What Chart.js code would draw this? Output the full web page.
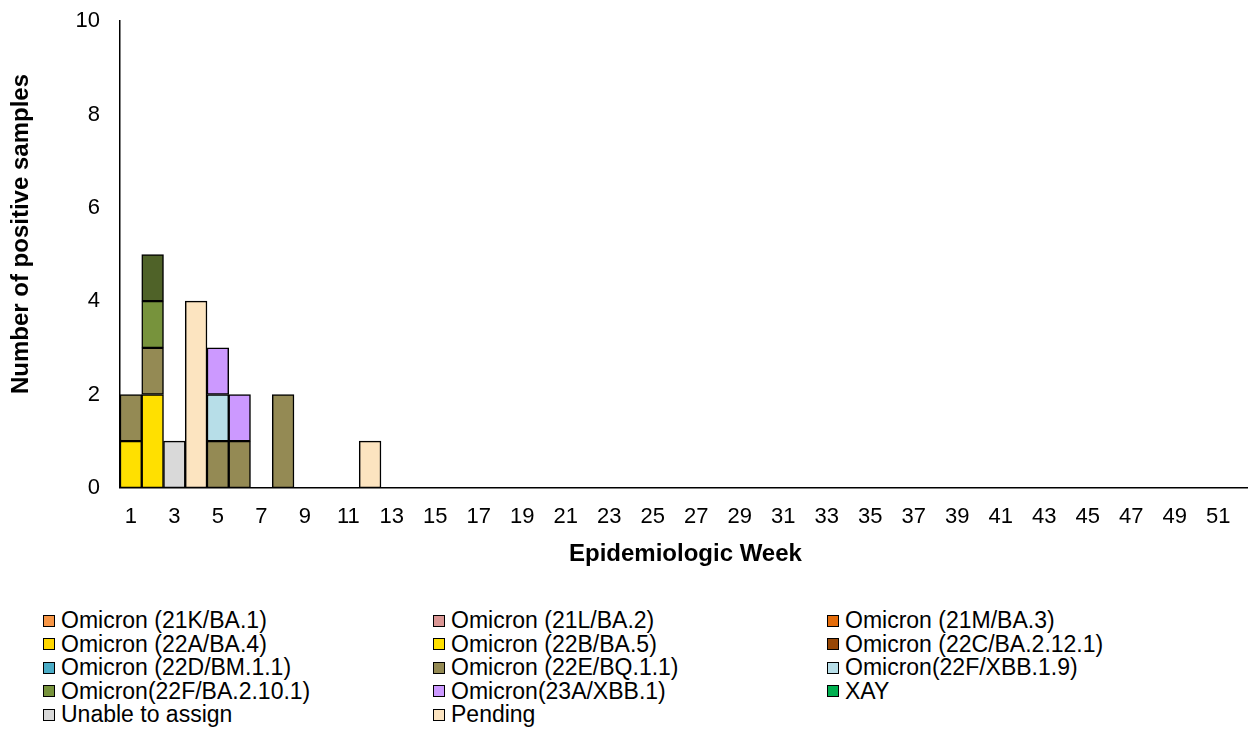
<!DOCTYPE html>
<html>
<head>
  <title>Variants by week</title>
  <script src="https://cdn.jsdelivr.net/npm/chart.js@4/dist/chart.umd.min.js"></script>
  <style>
    body{margin:0;background:#fff;font-family:Arial,"Liberation Sans",sans-serif;overflow:hidden;}
    #wrap{position:absolute;left:0;top:-12px;width:1256px;height:581px;}
    #legend{position:absolute;left:43px;top:609px;display:grid;grid-template-columns:390px 394px 390px;font-size:23px;line-height:23.5px;color:#000;}
    .item{display:flex;align-items:center;white-space:nowrap;}
    .box{display:inline-block;width:10px;height:10px;border:1px solid #000;margin-right:6px;}
  </style>
</head>
<body>
  <div id="wrap"><canvas id="chart"></canvas></div>
  <div id="legend"></div>

  <script>
    // weeks 1..52
    const weeks = [];
    for(let w=1; w<=52; w++) weeks.push(String(w));

    const names = ['Omicron (21K/BA.1)','Omicron (21L/BA.2)','Omicron (21M/BA.3)',
                   'Omicron (22A/BA.4)','Omicron (22B/BA.5)','Omicron (22C/BA.2.12.1)',
                   'Omicron (22D/BM.1.1)','Omicron (22E/BQ.1.1)','Omicron(22F/XBB.1.9)',
                   'Omicron(22F/BA.2.10.1)','Omicron(23A/XBB.1)','XAY',
                   'Unable to assign','Pending'];
    const colors = ['#F79646','#DA9694','#E46C0A',
                    '#FFD700','#FFE000','#974706',
                    '#4BACC6','#948A54','#B7DEE8',
                    '#77933C','#CC99FF','#00B050',
                    '#D9D9D9','#FCE4C0'];

    // counts per week, only non-zero weeks listed
    const ba5      = {1:1, 2:2};
    const bq11     = {1:1, 2:1, 5:1, 6:1, 8:2};
    const xbb19    = {5:1};
    const ba2101   = {2:1};
    const xbb1     = {5:1, 6:1};
    const other    = {2:1};
    const unable   = {3:1};
    const pending  = {4:4, 12:1};

    const counts = {
      'Omicron (22B/BA.5)': ba5,
      'Omicron (22E/BQ.1.1)': bq11,
      'Omicron(22F/XBB.1.9)': xbb19,
      'Omicron(22F/BA.2.10.1)': ba2101,
      'Omicron(23A/XBB.1)': xbb1,
      'Unable to assign': unable,
      'Pending': pending
    };

    const toSeries = obj => weeks.map(w => obj && obj[w] ? obj[w] : null);

    const bar = (label, data, color) => ({
      label, data, backgroundColor: color,
      borderColor:'#000', borderWidth:1.5, borderSkipped:false,
      categoryPercentage:1, barPercentage:1
    });

    let datasets = names.map((n,i)=>bar(n, toSeries(counts[n]), colors[i]));
    // unlabelled dark green segment on top of week 2
    datasets.splice(11, 0, bar('other', toSeries(other), '#4F6228'));

    const font = {family:'Arial, "Liberation Sans", sans-serif', size:22};
    const titleFont = {family:'Arial, "Liberation Sans", sans-serif', size:24, weight:'bold'};

    // y title drawn by hand so it sits where the original has it
    const yTitle = {
      id:'yTitle',
      afterDraw(chart){
        const ctx = chart.ctx;
        ctx.save();
        ctx.translate(21, 234 + 12);
        ctx.rotate(-Math.PI/2);
        ctx.font = 'bold 24px Arial, "Liberation Sans", sans-serif';
        ctx.fillStyle = '#000';
        ctx.textAlign = 'center';
        ctx.textBaseline = 'middle';
        ctx.fillText('Number of positive samples', 0, 0);
        ctx.restore();
      }
    };

    new Chart(document.getElementById('chart'), {
      type:'bar',
      data:{labels:weeks, datasets},
      options:{
        responsive:true,
        maintainAspectRatio:false,
        animation:false,
        layout:{padding:{top:8,right:0,left:0,bottom:0}},
        plugins:{legend:{display:false}, tooltip:{enabled:false}},
        scales:{
          x:{
            stacked:true,
            grid:{display:false, drawTicks:false},
            border:{color:'#000', width:1.5},
            ticks:{color:'#000', font, padding:16, autoSkip:false, maxRotation:0,
              callback:(v,i)=> i%2===0 ? weeks[i] : ''},
            title:{display:true, text:'Epidemiologic Week', color:'#000',
              font:titleFont, padding:{top:-6, bottom:0}}
          },
          y:{
            stacked:true, min:0, max:10,
            afterFit: s => { s.width = 120; },
            grid:{display:false, drawTicks:false},
            border:{color:'#000', width:1.5},
            ticks:{color:'#000', font, stepSize:2, padding:20}
          }
        }
      },
      plugins:[yTitle]
    });

    const legend = document.getElementById('legend');
    names.forEach((n,i)=>{
      const d = document.createElement('div');
      d.className='item';
      d.innerHTML = '<span class="box" style="background:'+colors[i]+'"></span>'+n;
      legend.appendChild(d);
    });
  </script>
</body>
</html>
